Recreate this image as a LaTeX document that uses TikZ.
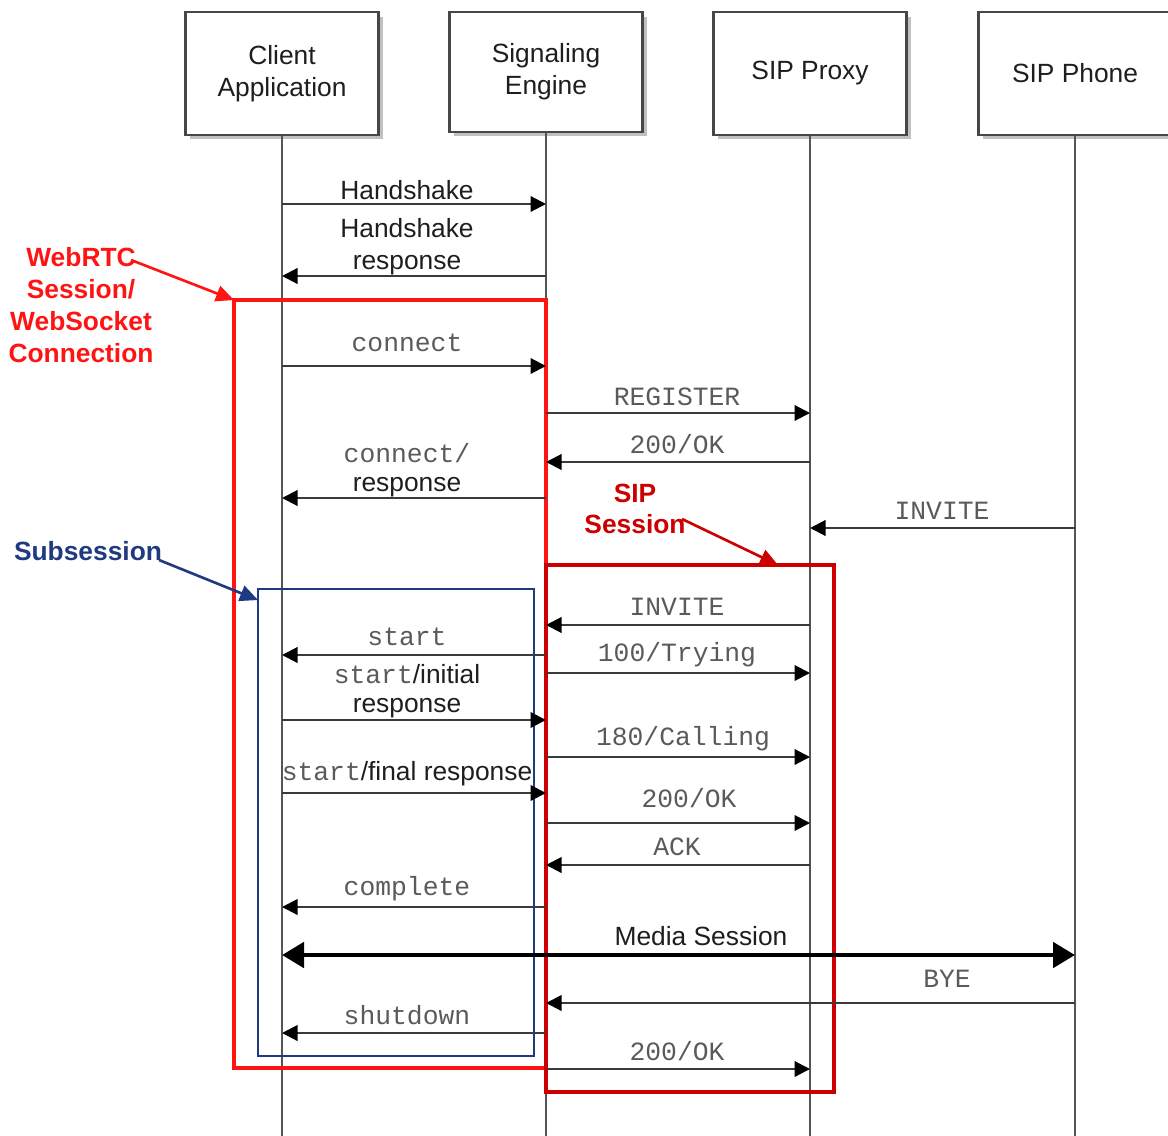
\documentclass[tikz,border=0pt]{standalone}
\usepackage{fontspec}
\setmainfont{Liberation Sans}
\newfontfamily\courfont{Liberation Mono}
\usetikzlibrary{arrows.meta,shadows}
\definecolor{lifegray}{HTML}{555555}
\definecolor{msggray}{HTML}{3A3A3A}
\definecolor{wrtcred}{HTML}{FF1414}
\definecolor{sipred}{HTML}{CC0000}
\definecolor{subblue}{HTML}{1F3A80}
\definecolor{monogray}{HTML}{5A5A5A}
\definecolor{sanstext}{HTML}{1E1E1E}
\begin{document}
\begin{tikzpicture}[x=0.02cm,y=-0.02cm,
  font=\fontsize{15}{18.1}\selectfont,
  actor/.style={draw=black!72, line width=1.2pt, fill=white, minimum width=3.86cm,
    minimum height=2.46cm, align=center, text=sanstext, inner sep=0pt,
    drop shadow={shadow xshift=0.09cm, shadow yshift=-0.09cm, fill=black!45, opacity=0.55}},
  life/.style={draw=lifegray, line width=1.1pt},
  msg/.style={draw=msggray, line width=1.2pt, -{Triangle[length=0.31cm,width=0.31cm,color=black]}},
  media/.style={draw=black, line width=2.8pt, {Triangle[length=0.44cm,width=0.5cm]}-{Triangle[length=0.44cm,width=0.5cm]}},
  lbl/.style={text=sanstext, align=center, inner sep=0pt},
  mono/.style={text=monogray, font=\fontsize{15}{18.1}\selectfont\courfont, inner sep=0pt, align=center},
  regionbox/.style={inner sep=0pt, outer sep=0pt, fill=none},
  annot/.style={font=\fontsize{15}{18.1}\selectfont\bfseries, align=center, inner sep=0pt},
  annarrow/.style={line width=1.5pt, -{Triangle[length=0.36cm,width=0.32cm]}}
]
\clip (0,0) rectangle (1168,1135);

% actors
\node[actor] (ca) at (282,73.5) {Client\\Application};
\node[actor, minimum height=2.40cm] (se) at (546,72) {Signaling\\Engine};
\node[actor] (sp) at (810,73.5) {SIP Proxy};
\node[actor] (ph) at (1075,73.5) {SIP Phone};

% lifelines
\coordinate (A) at (282,0);
\coordinate (B) at (546,0);
\coordinate (C) at (810,0);
\coordinate (D) at (1075,0);
\draw[life] (ca.south) -- (ca.south |- 0,1140);
\draw[life] (se.south) -- (se.south |- 0,1140);
\draw[life] (sp.south) -- (sp.south |- 0,1140);
\draw[life] (ph.south) -- (ph.south |- 0,1140);

% region boxes
\node[regionbox, draw=wrtcred, line width=2.4pt, minimum width=6.24cm, minimum height=15.36cm] (wbox) at (390,684) {};
\node[regionbox, draw=sipred, line width=2.4pt, minimum width=5.76cm, minimum height=10.54cm] (sbox) at (690,828.5) {};
\node[regionbox, draw=subblue, line width=1.4pt, minimum width=5.52cm, minimum height=9.34cm] (bbox) at (396,822.5) {};

% annotations
\node[annot, text=wrtcred] (wl) at (81,305) {WebRTC\\Session/\\WebSocket\\Connection};
\coordinate (wa) at (131,260);
\draw[annarrow, draw=wrtcred, fill=wrtcred] (wa) -- (wbox.north west);

\node[annot, text=subblue] (sl) at (88,551) {Subsession};
\coordinate (sa) at (159,560);
\draw[annarrow, draw=subblue, fill=subblue] (sa) -- ([yshift=-0.22cm]bbox.north west);

\node[annot, text=sipred] (ssl) at (635,509) {SIP\\Session};
\coordinate (ssa) at (682,519);
\draw[annarrow, draw=sipred, fill=sipred] (ssa) -- (sbox.north -| 778,0);

% messages
\draw[msg] (A |- 0,204) -- (B |- 0,204);
\node[lbl] (m1) at (407,190) {Handshake};

\draw[msg] (B |- 0,276) -- (A |- 0,276);
\node[lbl] (m2) at (407,247) {Handshake\\response};

\draw[msg] (A |- 0,366) -- (B |- 0,366);
\node[mono] (m3) at (407,343) {connect};

\draw[msg] (B |- 0,413) -- (C |- 0,413);
\node[mono] (m4) at (677,397) {REGISTER};

\draw[msg] (C |- 0,462) -- (B |- 0,462);
\node[mono] (m5) at (677,444) {200/OK};

\draw[msg] (B |- 0,498) -- (A |- 0,498);
\node[mono] (m6a) at (407,453) {connect/};
\node[lbl] (m6b) at (407,487) {response};

\draw[msg] (D |- 0,528) -- (C |- 0,528);
\node[mono] (m7) at (942,511) {INVITE};

\draw[msg] (C |- 0,625) -- (B |- 0,625);
\node[mono] (m8) at (677,607) {INVITE};

\draw[msg] (B |- 0,655) -- (A |- 0,655);
\node[mono] (m9) at (407,637) {start};

\draw[msg] (B |- 0,673) -- (C |- 0,673);
\node[mono] (m10) at (677,655) {100/Trying};

\draw[msg] (A |- 0,720) -- (B |- 0,720);
\node[lbl] (m11a) at (407,674) {{\color{monogray}\courfont start}/initial};
\node[lbl] (m11b) at (407,708) {response};

\draw[msg] (B |- 0,757) -- (C |- 0,757);
\node[mono] (m12) at (683,739) {180/Calling};

\draw[msg] (A |- 0,793) -- (B |- 0,793);
\node[lbl] (m13) at (407,774) {{\color{monogray}\courfont start}/final response};

\draw[msg] (B |- 0,823) -- (C |- 0,823);
\node[mono] (m14) at (689,798) {200/OK};

\draw[msg] (C |- 0,865) -- (B |- 0,865);
\node[mono] (m15) at (677,847) {ACK};

\draw[msg] (B |- 0,907) -- (A |- 0,907);
\node[mono] (m16) at (407,889) {complete};

\draw[media] (A |- 0,955) -- (D |- 0,955);
\node[lbl] (m17) at (701,936) {Media Session};

\draw[msg] (D |- 0,1003) -- (B |- 0,1003);
\node[mono] (m18) at (947,979) {BYE};

\draw[msg] (B |- 0,1033) -- (A |- 0,1033);
\node[mono] (m19) at (407,1015) {shutdown};

\draw[msg] (B |- 0,1069) -- (C |- 0,1069);
\node[mono] (m20) at (677,1051) {200/OK};
\end{tikzpicture}
\end{document}
